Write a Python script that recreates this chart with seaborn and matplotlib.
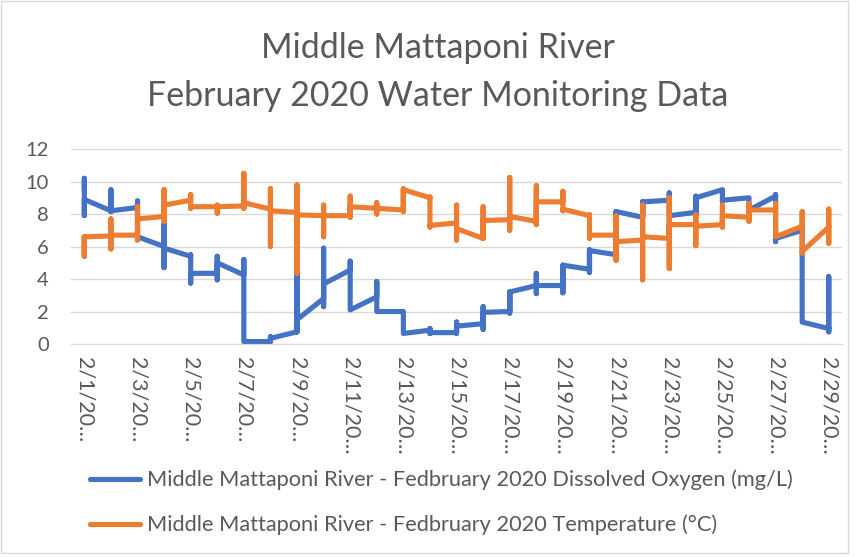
import numpy as np
import pandas as pd
import matplotlib
matplotlib.use("Agg")
import matplotlib.pyplot as plt
import seaborn as sns
from matplotlib.patches import Rectangle

# one position per day of February 2020
days = list(range(1, 30))
date_labels = [f"2/{d}/20…" for d in days]

# dissolved oxygen (mg/L): first reading, daily min, daily max, last reading
do_first = [9.5, 8.2, 8.4, 6.0, 5.4, 4.35, 4.25, 0.15, 0.75, 2.8, 4.55, 2.9, 2.0, 0.85, 0.7,
            1.25, 2.0, 3.6, 3.6, 4.6, 5.5, 7.8, 8.85, 8.1, 9.5, 9.0, 9.1, 7.0, 0.95]
do_low = [7.9, 8.15, 6.6, 4.7, 3.75, 3.95, 0.15, 0.15, 0.75, 2.3, 2.1, 2.0, 0.65, 0.65, 0.65,
          0.9, 1.9, 3.1, 3.15, 4.4, 5.5, 7.8, 7.9, 7.95, 8.8, 8.2, 6.3, 1.35, 0.75]
do_high = [10.2, 9.5, 8.8, 7.4, 5.5, 5.4, 5.2, 0.45, 4.4, 5.9, 5.1, 3.85, 2.0, 0.95, 1.35,
           2.3, 3.2, 4.35, 4.85, 5.8, 8.15, 8.75, 9.3, 9.1, 9.5, 9.0, 9.2, 7.05, 4.15]
do_last = [8.9, 8.2, 6.6, 5.9, 4.35, 5.0, 0.15, 0.35, 1.5, 3.7, 2.1, 2.0, 0.65, 0.7, 1.1,
           1.95, 3.2, 3.6, 4.85, 5.75, 8.15, 8.75, 7.9, 9.0, 8.85, 8.25, 6.5, 1.35, 1.0]

# temperature (°C): first reading, daily min, daily max, last reading
temp_first = [5.4, 6.65, 6.7, 7.85, 8.85, 8.45, 8.5, 8.3, 8.1, 7.9, 7.9, 8.35, 8.25, 9.0, 7.45,
              6.5, 7.65, 7.55, 8.75, 7.9, 6.7, 6.4, 6.5, 7.35, 7.35, 7.8, 8.25, 7.25, 7.2]
temp_low = [5.4, 5.85, 6.4, 7.55, 8.35, 8.05, 8.35, 6.0, 4.35, 6.6, 7.8, 8.0, 8.15, 7.2, 6.4,
            6.5, 7.0, 7.35, 8.2, 6.5, 5.15, 3.95, 4.65, 6.05, 7.2, 7.55, 6.6, 5.6, 6.2]
temp_high = [6.6, 7.7, 8.45, 9.5, 9.2, 8.55, 10.5, 9.55, 9.8, 8.55, 9.1, 8.7, 9.55, 9.05, 8.55,
             8.45, 10.25, 9.75, 9.4, 7.95, 7.9, 8.55, 9.0, 7.95, 8.55, 8.65, 8.65, 8.15, 8.3]
temp_last = [6.6, 6.7, 7.7, 8.55, 8.45, 8.45, 8.7, 8.2, 7.95, 7.9, 8.45, 8.35, 9.5, 7.3, 7.1,
             7.6, 7.85, 8.75, 8.3, 6.7, 6.3, 6.6, 7.35, 7.25, 7.9, 8.25, 6.6, 5.7, 7.2]

do_name = "Middle Mattaponi River - Fedbruary 2020 Dissolved Oxygen (mg/L)"
temp_name = "Middle Mattaponi River - Fedbruary 2020 Temperature (°C)"

# several readings per day share the same x, like Excel's date axis
rows = []
for name, first, low, high, last in [(do_name, do_first, do_low, do_high, do_last),
                                     (temp_name, temp_first, temp_low, temp_high, temp_last)]:
    for i, d in enumerate(days):
        for v in (first[i], high[i], low[i], last[i]):
            rows.append({"day": d, "value": v, "series": name})
df = pd.DataFrame(rows)

sns.set_style("white")
plt.rcParams["font.family"] = ["Lato", "DejaVu Sans"]
gray = "#595959"
grid_c = "#d9d9d9"

fig = plt.figure(figsize=(8.61, 5.57), dpi=100)
ax = fig.add_axes([0.0825, 0.3824, 0.8955, 0.350])

sns.lineplot(data=df, x="day", y="value", hue="series", estimator=None, sort=False,
             palette=["#4472C4", "#ED7D31"], linewidth=3.7, ax=ax,
             solid_capstyle="round", solid_joinstyle="round", legend=True)

ax.set_xlim(0.5, 29.5)
ax.set_ylim(0, 12)
ax.set_yticks(range(0, 13, 2))
ax.set_xticks(days[::2])
ax.set_xticklabels(date_labels[::2], rotation=-90, ha="center", va="top")
ax.set_xticks([d - 0.5 for d in days[::2]], minor=True)
ax.tick_params(axis="x", which="major", length=0, pad=9, labelsize=15.5, labelcolor=gray)
ax.tick_params(axis="x", which="minor", length=6, width=1, color=grid_c, direction="out")
ax.tick_params(axis="y", length=0, pad=16, labelsize=14.5, labelcolor=gray)
ax.yaxis.grid(True, color=grid_c, linewidth=1)
ax.set_axisbelow(True)
for s in ["top", "right", "left"]:
    ax.spines[s].set_visible(False)
ax.spines["bottom"].set_color(grid_c)
ax.set_xlabel("")
ax.set_ylabel("")

handles, labels = ax.get_legend_handles_labels()
ax.get_legend().remove()
fig.legend(handles, labels, loc="upper left", bbox_to_anchor=(0.082, 0.192), frameon=False,
           fontsize=15.7, labelcolor=gray, handlelength=2.3, handletextpad=0.3, labelspacing=1.12)

fig.text(438 / 861, 1 - 48 / 557, "Middle Mattaponi River", ha="center", va="center",
         fontsize=24.5, color=gray)
fig.text(438 / 861, 1 - 96 / 557, "February 2020 Water Monitoring Data", ha="center", va="center",
         fontsize=24.5, color=gray)

fig.patches.append(Rectangle((1 / 861, 1 - 553 / 557), 847 / 861, 552 / 557,
                             transform=fig.transFigure, fill=False, edgecolor=grid_c, linewidth=1))

fig.savefig("out.png", dpi=100)
